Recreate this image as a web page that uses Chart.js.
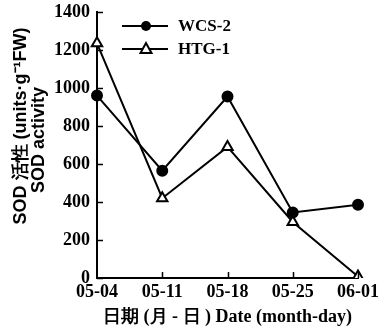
<!DOCTYPE html>
<html>
<head>
<meta charset="utf-8">
<script src="https://cdn.jsdelivr.net/npm/chart.js@4"></script>
<style>
  html, body { margin: 0; padding: 0; background: #fff; }
  #wrap { width: 383px; height: 332px; }
</style>
</head>
<body>
<div id="wrap"><canvas id="grafico" width="383" height="332"></canvas></div>
<script>
// dados
const datas = ['05-04', '05-11', '05-18', '05-25', '06-01'];
const wcs2 = [960, 565, 955, 345, 385];
const htg1 = [1235, 420, 690, 295, 8];
const yTicks = [0, 200, 400, 600, 800, 1000, 1200, 1400];
const tituloY = ['SOD 活性 (units·g⁻¹FW)', 'SOD activity'];

const serif = '"Liberation Serif", "Times New Roman", serif';
const sans = '"Liberation Sans", Arial, sans-serif';

// marcas de escala voltadas para dentro
const ticksDentro = {
  id: 'ticksDentro',
  afterDraw(chart) {
    const c = chart.ctx, x = chart.scales.x, y = chart.scales.y;
    c.save();
    c.strokeStyle = '#000';
    c.lineWidth = 1.5;
    c.beginPath();
    yTicks.forEach(v => {
      const py = Math.round(y.getPixelForValue(v)) + 0.5;
      c.moveTo(x.left, py); c.lineTo(x.left + 6, py);
    });
    datas.forEach((d, i) => {
      if (i === 0) return;
      const px = Math.round(x.getPixelForValue(i)) + 0.5;
      c.moveTo(px, y.bottom); c.lineTo(px, y.bottom - 6);
    });
    c.stroke();
    c.restore();
  }
};

// título do eixo y, duas linhas giradas
const tituloEixoY = {
  id: 'tituloEixoY',
  afterDraw(chart) {
    const c = chart.ctx;
    c.save();
    c.fillStyle = '#000';
    c.textAlign = 'center';
    c.textBaseline = 'middle';
    c.font = 'bold 18px ' + sans;
    c.translate(21, 126);
    c.rotate(-Math.PI / 2);
    c.fillText(tituloY[0], 0, 0);
    c.fillText(tituloY[1], -14, 18);
    c.restore();
  }
};

// legenda: linha com marcador no meio
const legenda = {
  id: 'legenda',
  afterDraw(chart) {
    const c = chart.ctx;
    c.save();
    chart.data.datasets.forEach((ds, i) => {
      const ly = 26 + i * 23;
      c.strokeStyle = '#000';
      c.lineWidth = 2;
      c.beginPath();
      c.moveTo(122, ly); c.lineTo(168, ly);
      c.stroke();
      if (ds.pointStyle === 'circle') {
        c.fillStyle = '#000';
        c.beginPath(); c.arc(146, ly, 5, 0, Math.PI * 2); c.fill();
      } else {
        c.fillStyle = '#fff';
        c.beginPath();
        c.moveTo(146, ly - 6); c.lineTo(151.5, ly + 4); c.lineTo(140.5, ly + 4);
        c.closePath(); c.fill(); c.stroke();
      }
      c.fillStyle = '#000';
      c.font = 'bold 17px ' + serif;
      c.textBaseline = 'middle';
      c.fillText(ds.label, 178, ly + 1);
    });
    c.restore();
  }
};

const ctx = document.getElementById('grafico').getContext('2d');
const myChart = new Chart(ctx, {
  type: 'line',
  data: {
    labels: datas,
    datasets: [
      {
        label: 'WCS-2',
        data: wcs2,
        borderColor: '#000',
        borderWidth: 2,
        pointStyle: 'circle',
        pointRadius: 5,
        pointBackgroundColor: '#000',
        pointBorderColor: '#000',
        tension: 0
      },
      {
        label: 'HTG-1',
        data: htg1,
        borderColor: '#000',
        borderWidth: 2,
        pointStyle: 'triangle',
        pointRadius: 6,
        pointBorderWidth: 2,
        pointBackgroundColor: '#fff',
        pointBorderColor: '#000',
        tension: 0
      }
    ]
  },
  options: {
    responsive: false,
    animation: false,
    layout: { padding: { left: 4, right: 25, top: 12, bottom: 4 } },
    plugins: {
      legend: { display: false },
      tooltip: { enabled: false }
    },
    scales: {
      x: {
        offset: false,
        grid: { display: false, drawTicks: false },
        border: { color: '#000', width: 2 },
        ticks: {
          color: '#000',
          padding: 4,
          maxRotation: 0,
          font: { family: serif, size: 18, weight: 'bold' }
        },
        title: {
          display: true,
          text: '日期 (月 - 日 ) Date (month-day)',
          color: '#000',
          padding: { top: 0, bottom: 0 },
          font: { family: serif, size: 18, weight: 'bold' }
        },
        afterFit(s) { s.height = 50; s.paddingLeft = 0; s.paddingRight = 0; }
      },
      y: {
        min: 0,
        max: 1400,
        grid: { display: false, drawTicks: false },
        border: { color: '#000', width: 2 },
        ticks: {
          stepSize: 200,
          color: '#000',
          padding: 7,
          callback: v => String(v),
          font: { family: serif, size: 18, weight: 'bold' }
        },
        afterFit(s) { s.width = 93; s.paddingTop = 0; s.paddingBottom = 0; }
      }
    }
  },
  plugins: [ticksDentro, tituloEixoY, legenda]
});
</script>
</body>
</html>
